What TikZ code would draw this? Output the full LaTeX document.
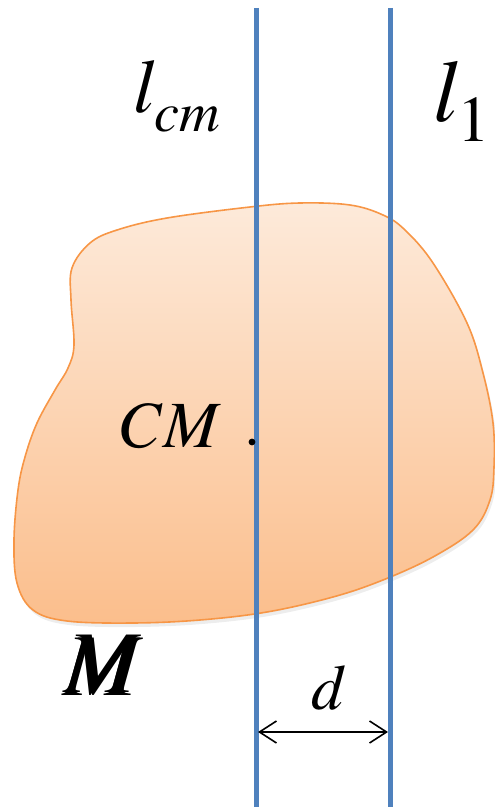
\documentclass[tikz,border=0pt]{standalone}
\usepackage[T1]{fontenc}
\usepackage{mathptmx}
\usepackage{bm}
\usetikzlibrary{arrows.meta}
\definecolor{axisblue}{RGB}{79,129,189}
\definecolor{bodytop}{RGB}{253,234,218}
\definecolor{bodybot}{RGB}{251,190,140}
\definecolor{bodyline}{RGB}{247,150,70}
\begin{document}
\begin{tikzpicture}[x=0.5pt,y=-0.5pt,>={Straight Barb[length=8.5pt,width=11pt]},
 every node/.style={inner sep=0pt,outer sep=0pt,anchor=base west},
 axis/.style={axisblue,line width=2.5pt}]
  \useasboundingbox (0,0) rectangle (494,807);
  % body of mass M
  \fill[black,opacity=0.07,xshift=1pt,yshift=-2pt] plot[smooth cycle,tension=0.6] coordinates {
    (72,268) (90,243) (117,230) (167,218) (250,207) (300,203) (350,205) (383,215)
    (405,230) (433,263) (467,323) (483,373) (493,423) (494,467) (490,500) (473,530)
    (433,557) (383,580) (333,597) (267,612) (200,620) (133,623) (67,621) (33,610)
    (17,583) (14,540) (18,490) (25,457) (37,423) (55,390) (68,368) (74,345) (71,300)};
  \shade[top color=bodytop,bottom color=bodybot,draw=bodyline,line width=0.8pt]
    plot[smooth cycle,tension=0.6] coordinates {
    (72,268) (90,243) (117,230) (167,218) (250,207) (300,203) (350,205) (383,215)
    (405,230) (433,263) (467,323) (483,373) (493,423) (494,467) (490,500) (473,530)
    (433,557) (383,580) (333,597) (267,612) (200,620) (133,623) (67,621) (33,610)
    (17,583) (14,540) (18,490) (25,457) (37,423) (55,390) (68,368) (74,345) (71,300)};
  % axes
  \coordinate (lcmtop) at (256,8);
  \coordinate (lcmbot) at (256,807);
  \coordinate (ltop) at (390,8);
  \coordinate (lbot) at (390,807);
  \draw[axis] (lcmtop)--(lcmbot);
  \draw[axis] (ltop)--(lbot);
  \fill (252,442) circle (1.7pt);
  % distance d
  \coordinate (dl) at (258,732);
  \coordinate (dr) at (388,732);
  \draw[<->,line width=0.8pt] (dl)--(dr);
  % labels
  \node (lcm) at (133,113) {\fontsize{38}{40}\selectfont$l_{\lower3.5pt\hbox{$\scriptstyle cm$}}$};
  \node (lone) at (433,122) {\fontsize{44}{46}\selectfont$l_{\lower3pt\hbox{$\scriptstyle 1$}}$};
  \node (cm) at (121,447) {\fontsize{33}{35}\selectfont$CM$};
  \node (mass) at (63,695) {\fontsize{44}{46}\selectfont$\bm{M}$};
  \node (dist) at (311,709) {\fontsize{32}{34}\selectfont$d$};
\end{tikzpicture}
\end{document}
